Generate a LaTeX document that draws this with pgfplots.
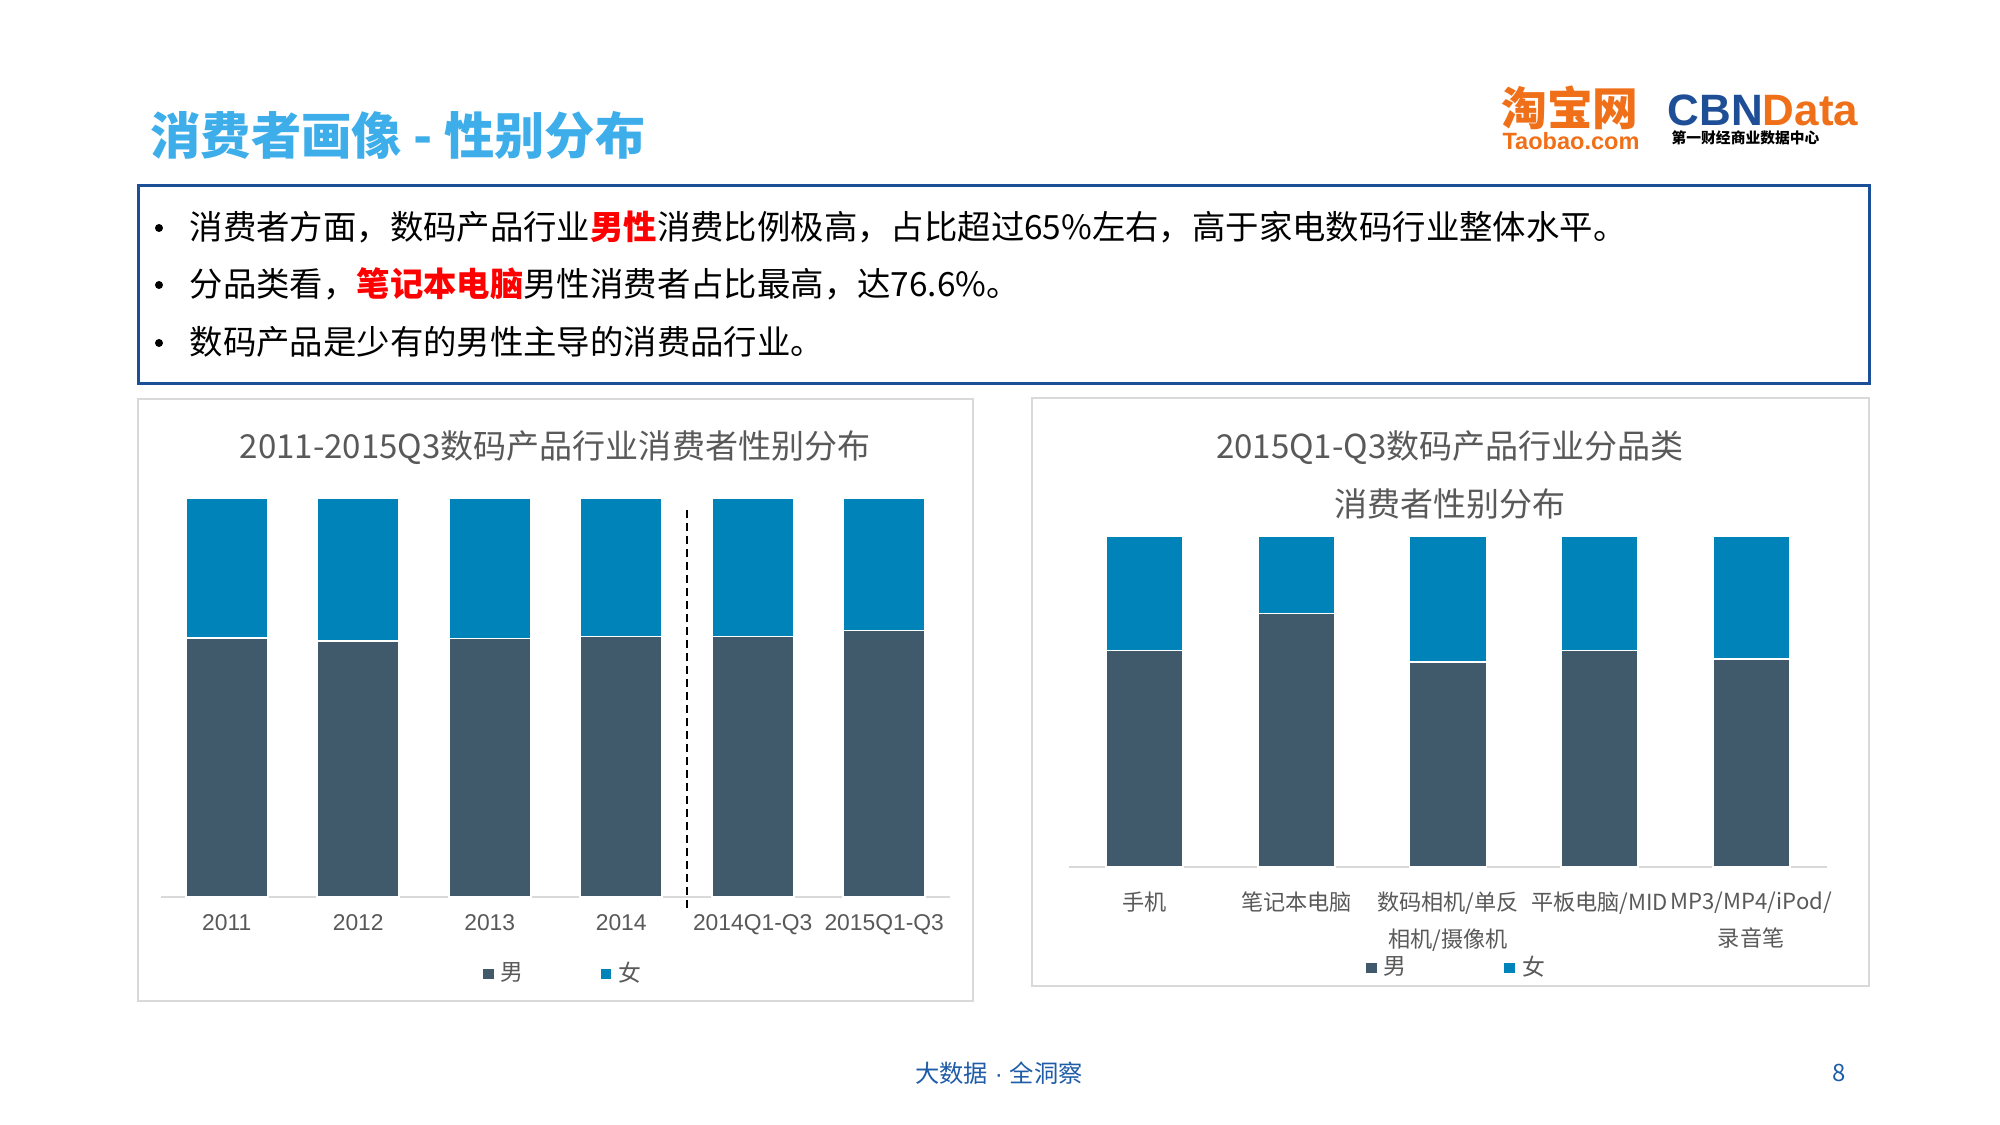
\documentclass[border=0pt]{standalone}
\usepackage{pgfplots}
\pgfplotsset{compat=1.18}
\usepackage{fontspec}
\setmainfont{Noto Sans CJK SC}
\newfontfamily\arial{Liberation Sans}
\definecolor{male}{HTML}{405A6C}
\definecolor{female}{HTML}{0083B8}
\definecolor{titleblue}{HTML}{3DAEEA}
\definecolor{boxblue}{HTML}{1B4F97}
\definecolor{txtgray}{HTML}{595959}
\definecolor{framegray}{HTML}{D9D9D9}
\definecolor{tborange}{HTML}{F07019}
\definecolor{cbnblue}{HTML}{1D4E96}
\definecolor{footblue}{HTML}{1F5CA8}
\pgfplotsset{sqlegend/.style={legend image code/.code={\fill[##1,draw=none] (0pt,-1.5pt) rectangle (3pt,1.5pt);}}}
\begin{document}
\begin{tikzpicture}
\begin{scope}[x=0.1mm,y=0.1mm]
\useasboundingbox[fill=white] (0,0) rectangle (2000,1125);
% title
\node[anchor=west, inner sep=0pt, text=titleblue, font=\fontsize{14.3}{17}\selectfont\bfseries] at (150,990) {消费者画像 - 性别分布};
% logos
\node[inner sep=0pt, text=tborange, font=\fontsize{13}{15}\selectfont\bfseries] at (1570,1017) {淘宝网};
\node[inner sep=0pt, text=tborange, font=\arial\fontsize{6.7}{9}\selectfont\bfseries] at (1571,984) {Taobao.com};
\node[anchor=west, inner sep=0pt, font=\arial\fontsize{12.5}{14}\selectfont\bfseries] at (1667,1015) {\textcolor{cbnblue}{CBN}\textcolor{tborange}{Data}};
\node[anchor=west, inner sep=0pt, font=\fontsize{4.2}{5}\selectfont\bfseries] at (1671,987) {第一财经商业数据中心};
% text box
\draw[boxblue, line width=0.3mm] (138,939) rectangle (1869,741);
\foreach \yy in {897,840,782}{\fill[black] (159,\yy) circle (4);}
\node[anchor=west, inner sep=0pt, font=\fontsize{9.5}{11}\selectfont] at (189,898) {消费者方面，数码产品行业{\color{red}\bfseries 男性}消费比例极高，占比超过65\%左右，高于家电数码行业整体水平。};
\node[anchor=west, inner sep=0pt, font=\fontsize{9.5}{11}\selectfont] at (189,841) {分品类看，{\color{red}\bfseries 笔记本电脑}男性消费者占比最高，达76.6\%。};
\node[anchor=west, inner sep=0pt, font=\fontsize{9.5}{11}\selectfont] at (189,783) {数码产品是少有的男性主导的消费品行业。};
% panels
\draw[framegray, line width=0.5pt] (138,124) rectangle (973,726);
\draw[framegray, line width=0.5pt] (1032,139) rectangle (1869,727);
\node[text=txtgray, font=\fontsize{9.4}{11}\selectfont] at (555,677) {2011-2015Q3数码产品行业消费者性别分布};
\node[text=txtgray, font=\fontsize{9.4}{11}\selectfont] at (1450,677) {2015Q1-Q3数码产品行业分品类};
\node[text=txtgray, font=\fontsize{9.4}{11}\selectfont] at (1450,621) {消费者性别分布};
% footer
\node[text=footblue, font=\fontsize{6.9}{8}\selectfont] at (999,52) {大数据{\arial\ ·\ }全洞察};
\node[text=footblue, font=\fontsize{6.8}{8}\selectfont] at (1839,52) {8};
\end{scope}
% left chart
\begin{axis}[at={(16.1mm,22.8mm)}, anchor=south west, scale only axis,
  width=78.9mm, height=39.9mm, ybar stacked, bar width=8.2mm,
  ymin=0, ymax=100, xmin=-0.5, xmax=5.5, xtick=data,
  xticklabels={2011,2012,2013,2014,2014Q1-Q3,2015Q1-Q3},
  axis x line=bottom, axis y line=none,
  x axis line style={-, draw=framegray, line width=0.6pt},
  major tick length=0pt,
  xticklabel style={font=\arial\fontsize{6.5}{7.5}\selectfont, text=txtgray, inner sep=0pt, yshift=-1.7mm},
  clip=false,
  legend style={at={(0.513,-0.193)}, anchor=center, draw=none, fill=none, legend columns=2,
    font=\fontsize{6.5}{8}\selectfont, text=txtgray,
    /tikz/every even column/.append style={column sep=7mm}},
  ]
\addplot[fill=male, draw=white, line width=0.5pt, sqlegend] coordinates {(0,65.0) (1,64.1) (2,64.8) (3,65.3) (4,65.3) (5,66.8)};
\addplot[fill=female, draw=white, line width=0.5pt, sqlegend] coordinates {(0,35.0) (1,35.9) (2,35.2) (3,34.7) (4,34.7) (5,33.2)};
\legend{男,女}
\draw[black, line width=0.2mm, dash pattern=on 0.8mm off 0.5mm] (axis cs:3.5,97) -- (axis cs:3.5,-2.8);
\end{axis}
% right chart
\begin{axis}[at={(106.9mm,25.8mm)}, anchor=south west, scale only axis,
  width=75.8mm, height=33.1mm, ybar stacked, bar width=7.7mm,
  ymin=0, ymax=100, xmin=-0.5, xmax=4.5, xtick=data,
  xticklabels={手机,笔记本电脑,{数码相机/单反\\相机/摄像机},平板电脑/MID,{MP3/MP4/iPod/\\录音笔}},
  axis x line=bottom, axis y line=none,
  x axis line style={-, draw=framegray, line width=0.6pt},
  major tick length=0pt,
  xticklabel style={font=\fontsize{6.3}{10.5}\selectfont, text=txtgray, inner sep=0pt, yshift=-2.4mm, align=center},
  clip=false,
  legend style={at={(0.5145,-0.305)}, anchor=center, draw=none, fill=none, legend columns=2,
    font=\fontsize{6.5}{8}\selectfont, text=txtgray,
    /tikz/every even column/.append style={column sep=9.1mm}},
  ]
\addplot[fill=male, draw=white, line width=0.5pt, sqlegend] coordinates {(0,65.4) (1,76.6) (2,62.0) (3,65.4) (4,62.9)};
\addplot[fill=female, draw=white, line width=0.5pt, sqlegend] coordinates {(0,34.6) (1,23.4) (2,38.0) (3,34.6) (4,37.1)};
\legend{男,女}
\end{axis}
\end{tikzpicture}
\end{document}
